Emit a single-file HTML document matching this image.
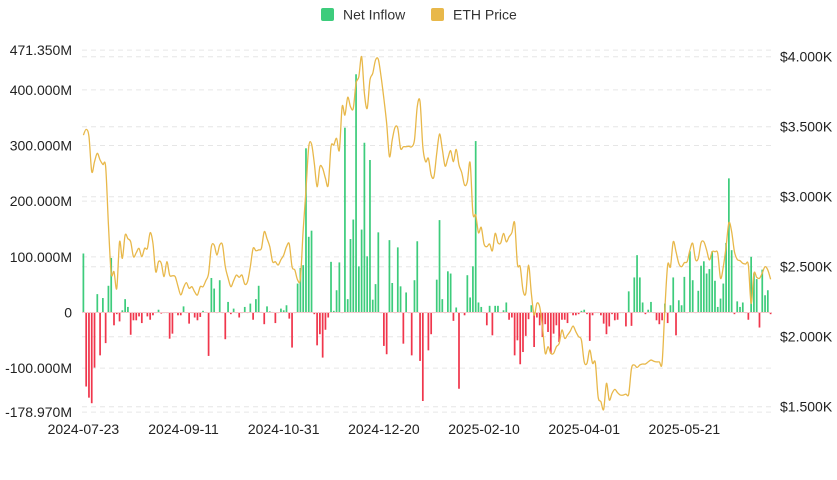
<!DOCTYPE html>
<html><head><meta charset="utf-8">
<style>
html,body{margin:0;padding:0;background:#fff;}
body{width:837px;height:475px;overflow:hidden;font-family:"Liberation Sans",sans-serif;}
svg text{font-family:"Liberation Sans",sans-serif;}
</style></head>
<body>
<svg id="chart" width="837" height="475" viewBox="0 0 837 475" xmlns="http://www.w3.org/2000/svg">
  <g>
    <g>
      <rect x="321" y="8" width="13" height="13" rx="2" fill="#3dcc7c"/>
      <text x="343" y="19.5" font-size="14" fill="#333">Net Inflow</text>
    </g>
    <g>
      <rect x="431" y="8" width="13" height="13" rx="2" fill="#e8b84a"/>
      <text x="453" y="19.5" font-size="14" fill="#333">ETH Price</text>
    </g>
  </g>
  <g id="grid"></g>
  <g id="bars"></g>
  <g id="line"></g>
  <g id="yleft"></g>
  <g id="yright"></g>
  <g id="xaxis"></g>
</svg>
<script>
const inflow = [
106,-133,-153,-163,-99,33,-77,26,-55,48,98,-23,-3,-16,4,24,10,-40,-14,-14,-7,-19,0,-7,-13,-5,0,5,-2,0,0,-47,-38,0,-5,-5,11,0,-20,0,-9,-14,-8,
3,1,-78,62,43,0,58,0,-48,19,-3,7,0,-9,0,10,0,16,-13,24,48,1,-21,11,2,1,-19,0,7,4,13,-11,-63,0,52,80,85,295,136,147,-3,-59,
-39,-81,-31,-9,91,3,40,90,0,332,24,132,167,428,83,149,305,101,274,23,51,144,0,-60,-75,130,53,0,117,47,-56,36,0,-77,58,128,-87,-159,0,-68,-39,
0,59,166,24,0,74,70,-15,9,-137,0,-5,67,27,83,308,18,10,0,-23,12,-41,12,12,0,4,18,-13,-9,-77,-50,-93,-71,-42,-12,13,-62,-9,-23,-44,-21,-35,
-74,-38,-23,-53,-13,-13,-19,0,-5,-5,-3,3,5,-3,-51,-5,0,0,-5,-20,-39,-25,-3,-14,-13,0,0,-25,38,-24,63,103,63,18,-3,5,19,0,-14,-21,-14,16,
-19,13,63,-41,22,13,64,0,110,58,0,39,84,92,70,78,110,57,10,25,52,125,241,112,-3,20,10,18,0,-13,100,70,60,-27,77,31,40,-3
];
const price = [
3440,3481,3430,3179,3250,3310,3262,3230,3214,2800,2452,2464,2345,2678,2560,2726,2700,2678,2571,2600,2631,2571,2631,2631,2743,2667,2464,2536,2524,2429,2536,2440,2435,2429,2360,2298,2350,2386,2345,2357,2320,2298,2357,
2357,2400,2452,2643,2655,2583,2655,2655,2500,2420,2357,2400,2440,2424,2440,2376,2393,2500,2631,2614,2620,2632,2750,2700,2643,2536,2536,2512,2550,2583,2643,2662,2500,2476,2405,2417,2762,3048,3357,3376,3238,3071,
3214,3202,3131,3083,3357,3369,3417,3333,3643,3583,3710,3643,3631,3810,3857,4000,3738,3631,3833,3881,3976,3981,3857,3700,3524,3286,3405,3495,3488,3345,3357,3357,3360,3357,3405,3643,3679,3357,3250,3274,3155,
3143,3310,3448,3340,3219,3274,3329,3250,3338,3226,3171,3083,3107,3243,2881,2869,2743,2781,2662,2643,2662,2614,2738,2671,2670,2738,2678,2714,2743,2814,2519,2500,2333,2310,2512,2310,2155,2238,2214,2071,1881,1929,
1881,1881,1929,1952,2048,1988,2012,2040,2076,2036,2000,1976,1821,1810,1905,1810,1814,1571,1536,1481,1667,1548,1595,1624,1600,1583,1583,1590,1590,1774,1798,1780,1798,1805,1805,1820,1833,1825,1820,1820,1814,2200,
2512,2500,2678,2607,2524,2500,2529,2536,2619,2667,2552,2560,2671,2678,2619,2548,2607,2607,2595,2417,2500,2643,2814,2750,2607,2552,2543,2524,2519,2512,2238,2452,2424,2417,2455,2500,2476,2410
];
const xLabels = ["2024-07-23","2024-09-11","2024-10-31","2024-12-20","2025-02-10","2025-04-01","2025-05-21"];
const leftTicks = [471.35,400,300,200,100,0,-100,-178.97];
const leftTickText = ["471.350M","400.000M","300.000M","200.000M","100.000M","0","-100.000M","-178.970M"];
const rightTicks = [4000,3500,3000,2500,2000,1500];
const rightTickText = ["$4.000K","$3.500K","$3.000K","$2.500K","$2.000K","$1.500K"];

const NS="http://www.w3.org/2000/svg";
const X0=82, X1=772;
const N=inflow.length;
const band=(X1-X0)/N;
const labelInterval=36;
function xPos(i){return X0+band*(i+0.5);}
function yL(v){return 312.5 - v*0.5566;}
function yR(p){return 56.7 + (4000-p)*0.14;}
function mk(tag,attrs,parent){const e=document.createElementNS(NS,tag);for(const k in attrs)e.setAttribute(k,attrs[k]);parent.appendChild(e);return e;}

const grid=document.getElementById('grid');
leftTicks.forEach(v=>{
  if(v===0) return;
  const l=mk('line',{x1:X0,x2:X1,y1:yL(v),y2:yL(v),stroke:'#e6e6e6','stroke-dasharray':'5,4','stroke-width':1},grid);
  
  
});
rightTicks.forEach(v=>{
  const l=mk('line',{x1:X0,x2:X1,y1:yR(v),y2:yR(v),stroke:'#e6e6e6','stroke-dasharray':'5,4','stroke-width':1},grid);
  
  
});

const bars=document.getElementById('bars');
inflow.forEach((v,i)=>{
  const w=band*0.62;
  const y0=yL(0), y1=yL(v);
  const r=mk('rect',{x:xPos(i)-w/2,y:Math.min(y0,y1),width:w,height:Math.max(Math.abs(y1-y0),0.6),fill:v>=0?'#3dcc7c':'#f0364c'},bars);
  
  
});
const zl=mk('line',{x1:X0,x2:X1,y1:yL(0),y2:yL(0),stroke:'#f5c8cc','stroke-width':1},bars);



const pts=price.map((p,i)=>[xPos(i),yR(p)]);
let d='M'+pts[0][0].toFixed(2)+','+pts[0][1].toFixed(2);
for(let i=0;i<pts.length-1;i++){
  const p0=pts[Math.max(i-1,0)],p1=pts[i],p2=pts[i+1],p3=pts[Math.min(i+2,pts.length-1)];
  const t=0.16;
  const c1=[p1[0]+(p2[0]-p0[0])*t,p1[1]+(p2[1]-p0[1])*t];
  const c2=[p2[0]-(p3[0]-p1[0])*t,p2[1]-(p3[1]-p1[1])*t];
  d+=' C'+c1[0].toFixed(2)+','+c1[1].toFixed(2)+' '+c2[0].toFixed(2)+','+c2[1].toFixed(2)+' '+p2[0].toFixed(2)+','+p2[1].toFixed(2);
}
const path=mk('path',{d:d,fill:'none',stroke:'#e8b84a','stroke-width':1.3,'stroke-linejoin':'round'},document.getElementById('line'));



const yl=document.getElementById('yleft');
leftTicks.forEach((v,i)=>{
  const t=mk('text',{x:72,y:yL(v)+5,'text-anchor':'end','font-size':14,fill:'#222'},yl);
  t.textContent=leftTickText[i];
  
  
});
const yr=document.getElementById('yright');
rightTicks.forEach((v,i)=>{
  const t=mk('text',{x:780,y:yR(v)+5,'font-size':14,fill:'#222'},yr);
  t.textContent=rightTickText[i];
  
  
});
const xa=document.getElementById('xaxis');
xLabels.forEach((s,k)=>{
  const t=mk('text',{x:xPos(k*labelInterval),y:434,'text-anchor':'middle','font-size':14,fill:'#222'},xa);
  t.textContent=s;
  
  
});
</script>
</body></html>
